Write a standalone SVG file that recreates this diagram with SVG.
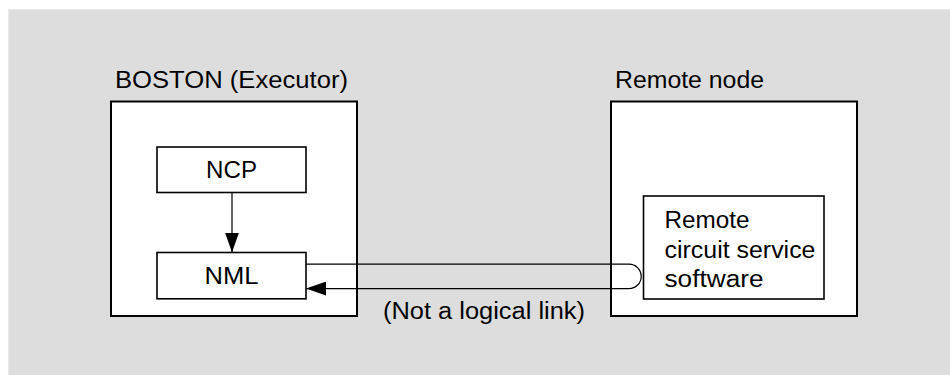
<svg xmlns="http://www.w3.org/2000/svg" width="950" height="375" viewBox="0 0 950 375">
<style>
.t{font-family:"Liberation Sans",Arial,sans-serif;font-size:23px;fill:#000}
.outer{fill:#fff;stroke:#000;stroke-width:2}
.inner{fill:#fff;stroke:#000;stroke-width:1.6}
.c{fill:none;stroke:#000;stroke-width:1.2}
</style>
<defs>
<marker id="ah" markerUnits="userSpaceOnUse" markerWidth="20" markerHeight="14" refX="20" refY="7" orient="auto">
<path d="M0,0 L20,7 L0,14 Z" fill="#000"/>
</marker>
</defs>
<rect x="0" y="0" width="950" height="375" fill="#fff"/>
<rect x="8" y="9" width="942" height="366" fill="#dddddd"/>
<path d="M8.5,375 V9.5 H950" fill="none" stroke="#e8e8e8" stroke-width="1"/>
<g id="boston">
<rect class="outer" x="111" y="101.5" width="246" height="214.5"/>
<text class="t" x="115" y="88" textLength="233" lengthAdjust="spacingAndGlyphs">BOSTON (Executor)</text>
</g>
<g id="ncp">
<rect class="inner" x="157" y="147" width="149" height="45.5"/>
<text class="t" x="231.5" y="178" text-anchor="middle" textLength="51" lengthAdjust="spacingAndGlyphs">NCP</text>
</g>
<g id="nml">
<rect class="inner" x="157" y="252.5" width="149" height="46.3"/>
<text class="t" x="231.5" y="284" text-anchor="middle" textLength="54" lengthAdjust="spacingAndGlyphs">NML</text>
</g>
<g id="remote">
<rect class="outer" x="611" y="101.5" width="246" height="214.5"/>
<text class="t" x="615" y="88" textLength="149" lengthAdjust="spacingAndGlyphs">Remote node</text>
</g>
<g id="rcss">
<rect class="inner" x="643.5" y="196" width="180.5" height="103"/>
<text class="t" x="664.5" y="228" textLength="85" lengthAdjust="spacingAndGlyphs">Remote</text>
<text class="t" x="664.5" y="258" textLength="151" lengthAdjust="spacingAndGlyphs">circuit service</text>
<text class="t" x="664.5" y="287" textLength="99" lengthAdjust="spacingAndGlyphs">software</text>
</g>
<g id="connectors">
<line class="c" x1="232" y1="192.5" x2="232" y2="252.5" marker-end="url(#ah)"/>
<path class="c" d="M306,264.2 H629 A12.2,12.2 0 0 1 629,288.6 H306" marker-end="url(#ah)"/>
<text class="t" x="383" y="318.5" textLength="202" lengthAdjust="spacingAndGlyphs">(Not a logical link)</text>
</g>
</svg>
